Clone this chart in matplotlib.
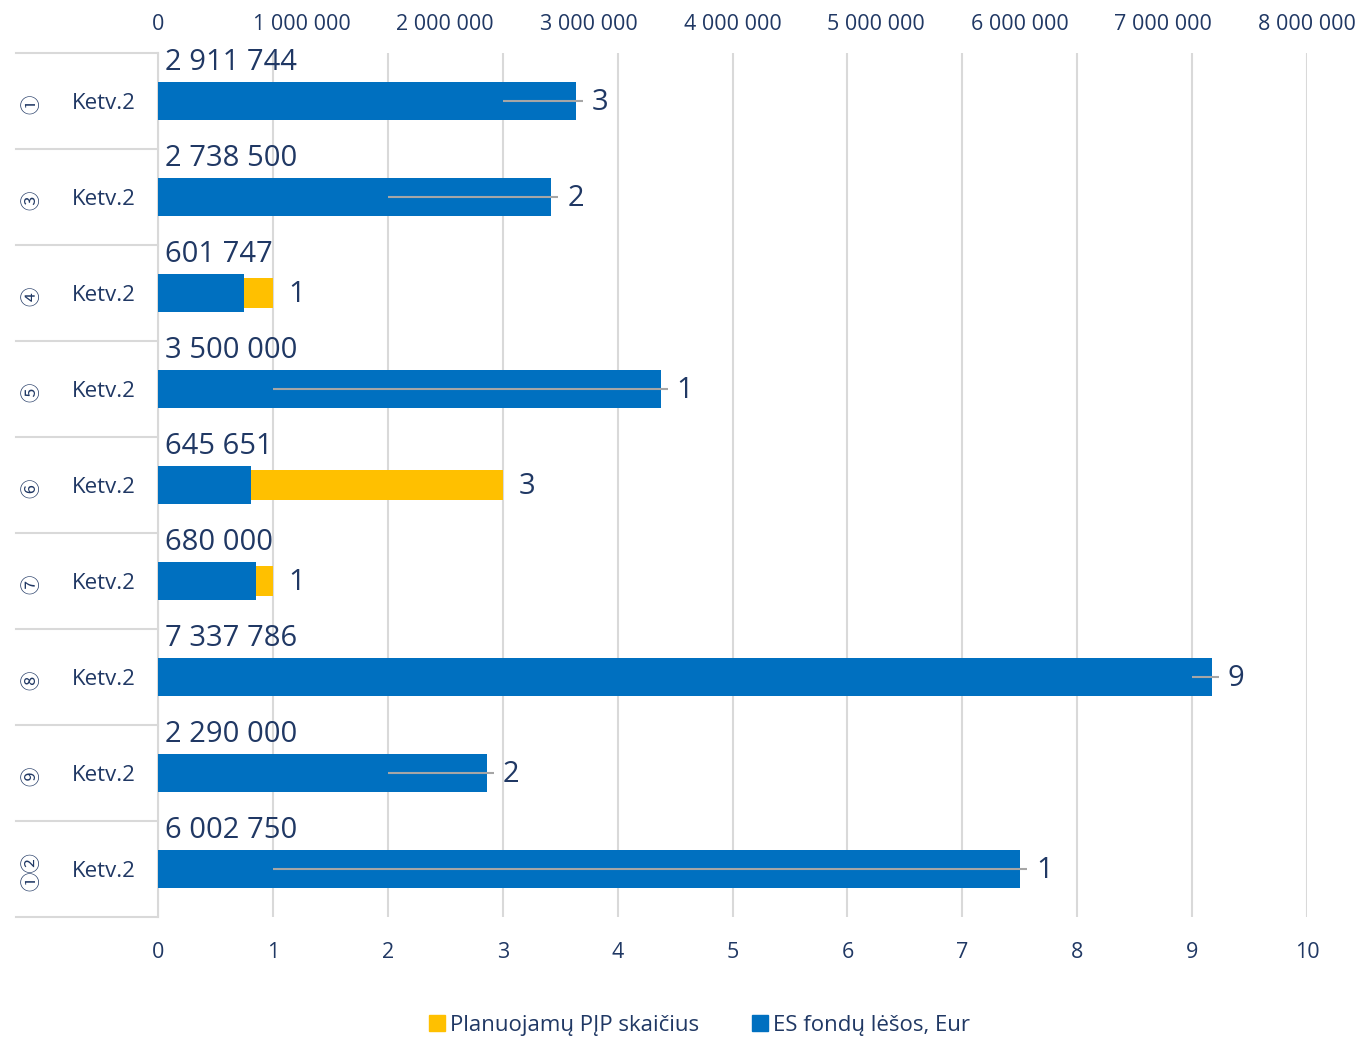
import matplotlib
matplotlib.use("Agg")
import matplotlib.pyplot as plt
from matplotlib.transforms import blended_transform_factory
from matplotlib.lines import Line2D

# ---- data ----
groups = ["①", "③", "④", "⑤", "⑥", "⑦", "⑧", "⑨", "①②"]
quarter = ["Ketv.2"] * 9
funds = [2911744, 2738500, 601747, 3500000, 645651, 680000, 7337786, 2290000, 6002750]
counts = [3, 2, 1, 1, 3, 1, 9, 2, 1]
funds_ticks = [0, 1000000, 2000000, 3000000, 4000000, 5000000, 6000000, 7000000, 8000000]
count_ticks = [0, 1, 2, 3, 4, 5, 6, 7, 8, 9, 10]
legend_labels = ["Planuojamų PĮP skaičius", "ES fondų lėšos, Eur"]

BLUE = "#0070C0"
YELLOW = "#FFC000"
TXT = "#203864"
GRID = "#D9D9D9"
LEAD = "#A6A6A6"
FONT = ["Open Sans", "DejaVu Sans"]

plt.rcParams["font.family"] = FONT

W, H = 1361, 1037
fig = plt.figure(figsize=(W / 100, H / 100), dpi=100)
L, R, T, B = 158, 1307, 53, 917
ax = fig.add_axes([L / W, 1 - B / H, (R - L) / W, (B - T) / H])
ax2 = ax.twiny()

n = len(funds)
ypos = list(range(n))
FMAX = 8000000
CMAX = 10

# bars
ax.barh(ypos, counts, height=0.31, color=YELLOW, zorder=2)
ax2.barh(ypos, funds, height=0.40, color=BLUE, zorder=2)

ax.set_xlim(0, CMAX)
ax2.set_xlim(0, FMAX)
ax.set_ylim(n - 0.5, -0.5)
ax2.set_ylim(n - 0.5, -0.5)

# ticks
ax.set_xticks(count_ticks)
ax.set_xticklabels([str(t) for t in count_ticks])
ax2.set_xticks(funds_ticks)
ax2.set_xticklabels([f"{t:,}".replace(",", " ") for t in funds_ticks])
ax.tick_params(axis="x", length=0, labelsize=15.5, labelcolor=TXT, pad=18)
ax2.tick_params(axis="x", length=0, labelsize=15.5, labelcolor=TXT, pad=13)
for a in (ax, ax2):
    a.set_yticks([])
    for s in a.spines.values():
        s.set_visible(False)
ax.spines["left"].set_visible(True)
ax.spines["left"].set_color(GRID)
ax.spines["left"].set_linewidth(1.5)

ax.grid(axis="x", color=GRID, linewidth=1.5, zorder=0)
ax.set_axisbelow(True)

# funds labels above bars
for i, v in enumerate(funds):
    ax2.annotate(f"{v:,}".replace(",", " "), (0, i), xytext=(7, 39),
                 textcoords="offset pixels", ha="left", va="center",
                 fontsize=21, color=TXT, zorder=5)

# count labels with leader lines
for i, (c, f) in enumerate(zip(counts, funds)):
    blue_end = f / FMAX * CMAX
    edge = max(c, blue_end)
    lx = edge + 0.21
    if blue_end > c:
        ax2.plot([c / CMAX * FMAX, (lx - 0.15) / CMAX * FMAX], [i, i],
                 color=LEAD, lw=1.5, zorder=4, solid_capstyle="butt")
    ax2.text(lx / CMAX * FMAX, i + 0.02, str(c), ha="center", va="center",
             fontsize=21, color=TXT, zorder=5)

# category axis (two levels)
tr = blended_transform_factory(fig.transFigure, ax.transData)
for i in range(n):
    ax.text(136 / W, i + 0.03, quarter[i], transform=tr, ha="right", va="center",
            fontsize=16, color=TXT)
    ax.text(32 / W, i + 0.03, groups[i], transform=tr, ha="center", va="center",
            rotation=90, fontsize=14, color=TXT,
            family=["Noto Sans CJK SC", "DejaVu Sans"])
for k in range(n + 1):
    y = k - 0.5
    ax.add_line(Line2D([16 / W, L / W], [y, y], transform=tr, color=GRID,
                       lw=1.5, clip_on=False))

# legend
handles = [Line2D([], [], marker="s", linestyle="none", markersize=11,
                  markerfacecolor=YELLOW, markeredgecolor=YELLOW),
           Line2D([], [], marker="s", linestyle="none", markersize=11,
                  markerfacecolor=BLUE, markeredgecolor=BLUE)]
fig.legend(handles, legend_labels, loc="center", ncol=2,
           bbox_to_anchor=(698 / W, 1 - 1025 / H), frameon=False,
           fontsize=16, labelcolor=TXT, handletextpad=0.1, columnspacing=2.2,
           handlelength=1.0)

fig.savefig("out.png", dpi=100)
